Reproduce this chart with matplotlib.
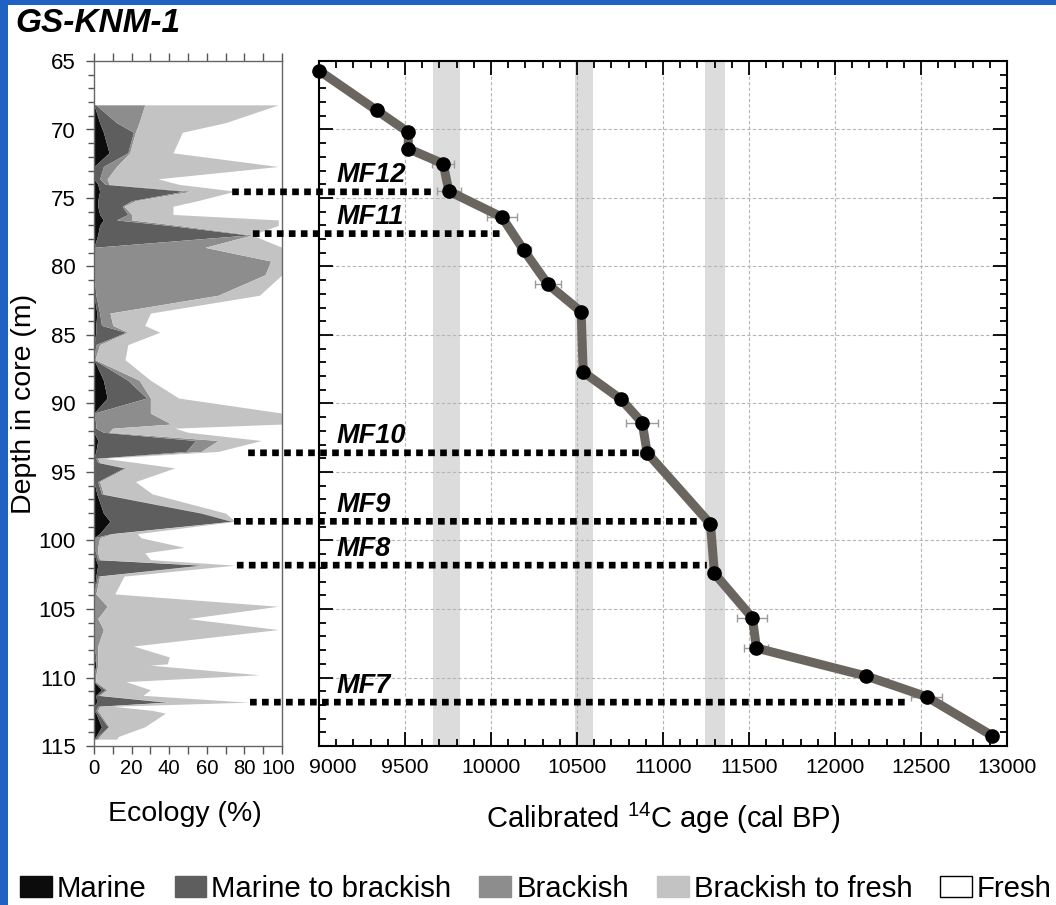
import numpy as np
import matplotlib
matplotlib.use("Agg")
import matplotlib.pyplot as plt
import matplotlib.transforms as mtransforms
from matplotlib.patches import Patch, Rectangle, ConnectionPatch
from matplotlib.ticker import MultipleLocator

# ecology samples (depth in m, % of each group)
depth = [68.2, 69.5, 70.2, 71.7, 72.7, 73.6, 74.0, 74.5, 75.2, 75.6, 76.2, 76.6,
         77.0, 77.7, 78.6, 79.6, 80.6, 82.1, 83.4, 84.3, 84.8, 85.7, 86.8, 88.3,
         89.6, 90.7, 91.5, 91.8, 92.1, 92.7, 93.5, 94.0, 94.3, 94.7, 95.7, 96.6,
         98.0, 98.6, 99.5, 99.8, 100.5, 100.9, 101.4, 101.8, 102.6, 103.9, 104.8,
         105.7, 106.5, 107.7, 108.5, 109.0, 109.1, 109.8, 110.3, 110.9, 111.3,
         111.8, 112.1, 112.4, 112.6, 113.6, 114.3, 114.5]
marine = [0, 3, 5, 8, 0, 0, 2, 3, 2, 2, 3, 5,
          3, 2, 0, 0, 0, 0, 1.5, 1, 1, 0, 0, 5,
          7, 0, 0, 0, 0, 2, 1, 0, 0, 0, 0, 1.5,
          5, 8.5, 3, 0, 0, 0, 1, 2, 1, 0, 0,
          0, 0, 0, 0, 1, 1, 0, 0, 4, 1,
          1.5, 0, 0, 1, 4, 1, 0]
marine_brackish = [1, 9, 16, 10, 5, 3, 4, 45, 18, 13, 15, 7,
                   37, 80, 0, 0, 0, 1, 1.5, 3, 16, 1, 0, 13,
                   21, 0, 1, 1, 5, 52, 48, 1, 2, 16, 2, 2.5,
                   52, 64.5, 6, 0, 0, 1, 1, 55, 1, 0, 0,
                   0, 0, 0, 1, 0, 0, 0, 0, 2, 1,
                   36.5, 2, 1, 1, 3.5, 1, 1]
brackish = [26, 12, 1, 1, 7, 4, 2, 4, 2, 1, 2, 8,
            5, 2, 59, 94, 91, 65, 5.5, 6, 1, 2, 0.5, 6,
            2, 30, 40, 9, 3, 12, 8, 1, 1, 1, 1, 1,
            1, 1, 1, 3, 2, 1, 1, 2, 1, 1, 7,
            2, 5, 2, 1, 1, 1, 1, 1, 1, 1,
            2, 1, 1, 1, 0.5, 1, 1]
brackish_fresh = [71, 46, 25, 23, 86, 27, 37, 23, 33, 26, 22, 78,
                  53, 0, 41, 6, 9, 22, 21.5, 17, 17, 15, 16, 6,
                  15, 70, 59, 33, 42, 23, 9, 3, 19, 26, 19, 26,
                  12, 1, 13, 22, 46, 25, 27, 16, 13, 10, 91,
                  48, 93, 19, 38, 37, 28, 87, 16, 23, 23,
                  42, 7, 29, 35, 19, 10, 10]

# calibrated ages
age_depth = [65.7, 68.6, 70.2, 71.4, 72.5, 74.5, 76.4, 78.8, 81.3, 83.3, 87.7,
             89.7, 91.4, 93.6, 98.8, 102.4, 105.65, 107.85, 109.9, 111.4, 114.25]
age = [9000, 9335, 9519, 9519, 9722, 9755, 10064, 10190, 10331, 10524, 10536,
       10757, 10879, 10908, 11276, 11299, 11520, 11543, 12183, 12532, 12914]
age_err = [0, 0, 0, 0, 65, 70, 87, 40, 75, 20, 15,
           20, 92, 40, 25, 30, 87, 70, 20, 90, 0]

bands = [(9663, 9818), (10490, 10593), (11246, 11362)]

mf_labels = ['MF12', 'MF11', 'MF10', 'MF9', 'MF8', 'MF7']
mf_depth = [74.55, 77.6, 93.6, 98.6, 101.8, 111.8]
mf_start = [73.5, 84.5, 82, 74.5, 76, 83]
mf_end = [9680, 10050, 10860, 11215, 11255, 12410]

groups = ['Marine', 'Marine to brackish', 'Brackish', 'Brackish to fresh', 'Fresh']
colors = ['#0c0c0c', '#5e5e5e', '#8d8d8d', '#c3c3c3', 'white']

FONT = ['Liberation Sans', 'DejaVu Sans']


def nudge_label(axis, value, dx_px, fig):
    # shift one tick label sideways (locators also return ticks outside the view)
    locs = np.asarray(axis.get_majorticklocs())
    ticks = axis.get_major_ticks(len(locs))
    lab = ticks[int(np.argmin(np.abs(locs - value)))].label1
    lab.set_transform(lab.get_transform() +
                      mtransforms.ScaledTranslation(dx_px / fig.dpi, 0, fig.dpi_scale_trans))


fig = plt.figure(figsize=(10.56, 9.05), dpi=100)
fig.patch.set_facecolor('#1f62c4')
fig.add_artist(Rectangle((8 / 1056, 0), 1, 1 - 5 / 905, transform=fig.transFigure,
                         facecolor='white', edgecolor='none', zorder=0))

W, H = 1056, 905
bottom = 1 - 746 / H
height = (746 - 61) / H
ax1 = fig.add_axes([94 / W, bottom, 188 / W, height])
ax2 = fig.add_axes([319 / W, bottom, 688 / W, height])
ax1.patch.set_alpha(0)
ax2.patch.set_alpha(0)

# ---- ecology panel
stack = np.vstack([marine, marine_brackish, brackish, brackish_fresh])
cum = np.cumsum(stack, axis=0)
lower = np.zeros(len(depth))
for i in range(4):
    ax1.fill_betweenx(depth, lower, cum[i], color=colors[i], lw=0)
    lower = cum[i]

ax1.set_xlim(0, 100)
ax1.set_ylim(115, 65)
ax1.xaxis.set_major_locator(MultipleLocator(20))
ax1.xaxis.set_minor_locator(MultipleLocator(10))
ax1.yaxis.set_major_locator(MultipleLocator(5))
ax1.yaxis.set_minor_locator(MultipleLocator(1))
ax1.tick_params(which='both', direction='out', top=True, right=False, color='#555555', width=1)
ax1.tick_params(which='major', length=6)
ax1.tick_params(which='minor', length=4)
ax1.tick_params(axis='x', which='minor', length=6)
ax1.tick_params(axis='x', pad=3)
ax1.tick_params(axis='y', pad=7)
for s in ax1.spines.values():
    s.set_color('#666666')
    s.set_linewidth(1)
for lab in ax1.get_xticklabels():
    lab.set_family(FONT)
    lab.set_fontsize(14.6)
for lab in ax1.get_yticklabels():
    lab.set_family(FONT)
    lab.set_fontsize(16)
nudge_label(ax1.xaxis, 100, -4, fig)
ax1.set_xlabel('Ecology (%)', family=FONT, fontsize=20.5)
ax1.xaxis.set_label_coords((184.5 - 94) / 188, -(801 - 746) / 685)
ax1.set_ylabel('Depth in core (m)', family=FONT, fontsize=20.5)
ax1.yaxis.set_label_coords((37 - 94) / 188, 0.5)

# ---- age panel
for a0, a1 in bands:
    ax2.axvspan(a0, a1, color='#dcdcdc', lw=0, zorder=0)
ax2.set_xlim(9000, 13000)
ax2.set_ylim(115, 65)
ax2.xaxis.set_major_locator(MultipleLocator(500))
ax2.xaxis.set_minor_locator(MultipleLocator(100))
ax2.yaxis.set_major_locator(MultipleLocator(5))
ax2.yaxis.set_minor_locator(MultipleLocator(1))
ax2.grid(which='major', color='#b5b5b5', lw=0.8, ls=(0, (3, 2)), zorder=1)
ax2.tick_params(which='both', direction='in', top=True, right=True, labelleft=False,
                width=1.3, color='black')
ax2.tick_params(which='major', length=10)
ax2.tick_params(which='minor', length=5)
ax2.tick_params(axis='x', pad=8.5)
for s in ax2.spines.values():
    s.set_linewidth(1.5)
for lab in ax2.get_xticklabels():
    lab.set_family(FONT)
    lab.set_fontsize(15.3)
nudge_label(ax2.xaxis, 9000, 14, fig)
ax2.set_xlabel('Calibrated $^{\\mathregular{14}}$C age (cal BP)', family=FONT, fontsize=21)
ax2.xaxis.set_label_coords(0.5, -(801 - 746) / 685)

ax2.errorbar(age, age_depth, xerr=age_err, fmt='none', ecolor='#9a9a9a', elinewidth=1,
             capsize=3, capthick=1, zorder=3)
ax2.plot(age, age_depth, color='#6b6560', lw=6.5, solid_capstyle='round', zorder=4, clip_on=False)
ax2.plot(age, age_depth, 'o', color='black', ms=9.5, zorder=5, clip_on=False)

for lab, d, s, e in zip(mf_labels, mf_depth, mf_start, mf_end):
    con = ConnectionPatch(xyA=(s, d), coordsA=ax1.transData, xyB=(e, d), coordsB=ax2.transData,
                          color='black', lw=4.8, ls=(0, (1, 0.8)), capstyle='butt', zorder=6)
    fig.add_artist(con)
    ax2.text(9100, d - 1.2, lab, family=FONT, fontsize=19.5, fontweight='bold', fontstyle='italic',
             ha='left', va='center', zorder=6)

fig.text(15 / W, 1 - 24 / H, 'GS-KNM-1', family=FONT, fontsize=24, fontweight='bold',
         fontstyle='italic', ha='left', va='center')

handles = [Patch(facecolor=c, edgecolor='black' if c == 'white' else c, lw=1) for c in colors]
fig.legend(handles, groups, loc='center left', bbox_to_anchor=(20 / W, 1 - 889 / H), ncol=5,
           frameon=False, prop={'family': FONT, 'size': 21.2}, handlelength=1.08, handleheight=0.74,
           handletextpad=0.17, columnspacing=0.95, borderpad=0, borderaxespad=0)

fig.savefig('out.png', dpi=100, facecolor=fig.get_facecolor())
